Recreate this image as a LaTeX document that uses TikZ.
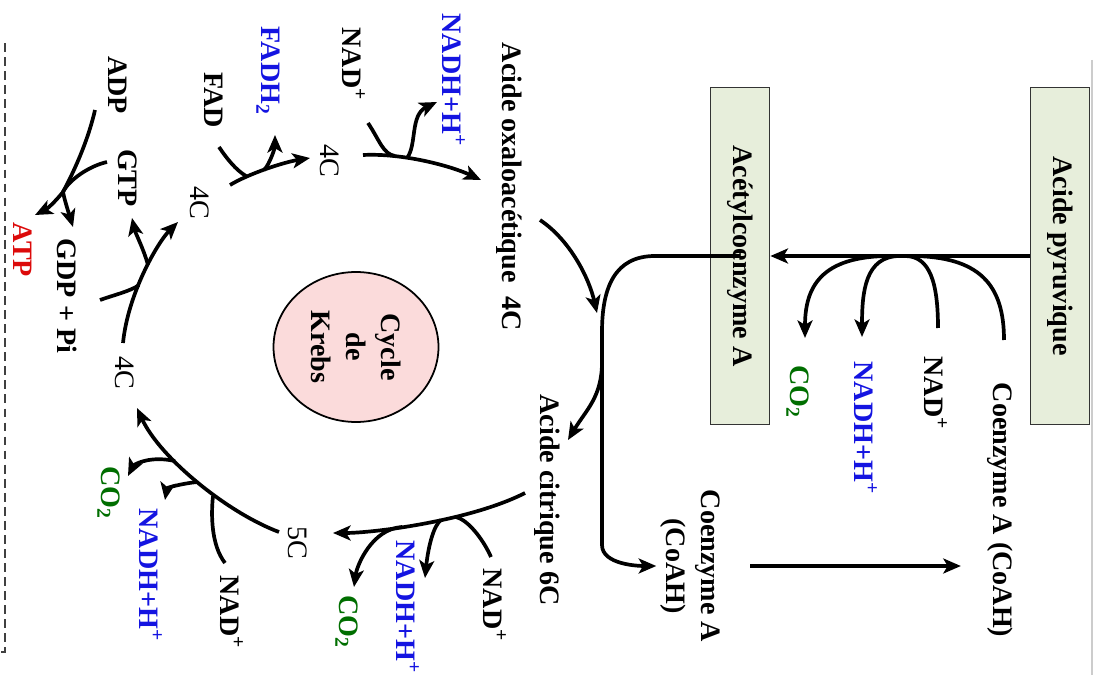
\documentclass[tikz,border=0pt]{standalone}
\usepackage{fontspec}
\setmainfont{Liberation Serif}
\usetikzlibrary{arrows.meta,shapes.geometric}
\definecolor{nadhblue}{RGB}{20,20,225}
\definecolor{coxgreen}{RGB}{0,110,0}
\definecolor{atpred}{RGB}{220,10,10}
\definecolor{boxgreen}{RGB}{231,238,219}
\definecolor{krebspink}{RGB}{251,219,219}
\tikzset{
  lbl/.style={rotate=-90, inner sep=0pt, font=\fontsize{16}{20}\selectfont\bfseries},
  lblr/.style={rotate=-90, inner sep=0pt, font=\fontsize{16}{20}\selectfont},
  molbox/.style={lbl, draw=black!80, fill=boxgreen, line width=1pt},
  feed/.style={line width=2.1pt},
  flow/.style={line width=2.1pt, -{Stealth[length=10pt,width=8.5pt,inset=2.5pt]}}
}
\begin{document}
\begin{tikzpicture}[x=0.02cm, y=-0.02cm]
\useasboundingbox (0,0) rectangle (1095,675);
% frame
\draw[black!75, line width=0.8pt, dash pattern=on 5pt off 3pt] (-10,44) -- (5,44) -- (5,652) -- (-10,652);
\draw[black!20, line width=0.8pt] (1092,60) -- (1092,675);

% pyruvate -> acetyl-CoA
\node[molbox, minimum width=6.74cm, minimum height=1.18cm] (pyr) at (1060,256) {Acide pyruvique};
\node[molbox, minimum width=6.74cm, minimum height=1.18cm] (acetyl) at (740,256) {Acétylcoenzyme A};
\node[lbl] (coaR) at (1000,510) {Coenzyme A (CoAH)};
\node[lbl] (nadR) at (936,393) {NAD\textsuperscript{+}};
\node[lbl, nadhblue] (nadhR) at (866,428) {NADH+H\textsuperscript{+}};
\node[lbl, coxgreen] (co2R) at (798,392) {CO\textsubscript{2}};
\node[lbl, align=center] (coaL) at (690,566) {Coenzyme A\\(CoAH)};

\draw[flow] (pyr) -- (acetyl);
\coordinate (pj) at (900,256);
\coordinate (coaIn) at (1004,340);
\coordinate (nadIn) at (938,328);
\coordinate (nadhOut) at (862,337);
\coordinate (co2Out) at (805,338);
\draw[feed] (coaIn) .. controls +(0,-55) and +(70,0) .. ([xshift=0.2cm]pj);
\draw[feed] (nadIn) .. controls +(0,-45) and +(25,0) .. ([xshift=0.1cm]pj);
\draw[flow] (pj) .. controls +(-35,0) and +(0,-45) .. (nadhOut);
\draw[flow] ([xshift=-0.2cm]pj) .. controls +(-70,0) and +(0,-50) .. (co2Out);

% entry into the cycle
\node[lbl] (oxalo) at (509,187) {Acide oxaloacétique\ \ 4C};
\node[lbl] (citr) at (547,500) {Acide citrique 6C};
\coordinate (hub) at (602,332);
\coordinate (oxOut) at (540,220);
\coordinate (oxIn) at (597,313);
\coordinate (ctOut) at (602,362);
\coordinate (ctIn) at (568,440);
\draw[flow, shorten >=2pt] (acetyl.center) -- ++(-85,0) .. controls +(-40,0) and +(0,-45) .. (hub) -- ++(0,213) .. controls +(0,20) and +(-20,0) .. (coaL.south);
\draw[flow] (oxOut) .. controls +(30,20) and +(-8,-35) .. (oxIn);
\draw[flow] (ctOut) .. controls +(0,35) and +(18,-30) .. (ctIn);
\draw[flow, shorten <=0.6cm, shorten >=0.52cm] (coaL.north) -- (coaL.north -| coaR.south);

% Krebs cycle
\node[lbl, shape=ellipse, draw, line width=1pt, fill=krebspink, align=center,
  minimum width=3cm, minimum height=3.3cm] (krebs) at (356,347) {Cycle\\de\\Krebs};
\node[lblr] (c4a) at (330,161) {4C};
\node[lblr] (c4b) at (200,203) {4C};
\node[lblr] (c4c) at (125,373) {4C};
\node[lblr] (c5) at (298,543) {5C};
\node[lbl] (nad1) at (354,64) {NAD\textsuperscript{+}};
\node[lbl, nadhblue] (nadh1) at (454,80) {NADH+H\textsuperscript{+}};
\node[lbl] (fad) at (214,100) {FAD};
\node[lbl, nadhblue] (fadh) at (268,71) {FADH\textsubscript{2}};
\node[lbl] (adp) at (118,85) {ADP};
\node[lbl] (gtp) at (128,178) {GTP};
\node[lbl, atpred] (atp) at (23,250) {ATP};
\node[lbl] (gdp) at (67,296) {GDP + Pi};
\node[lbl] (nad2) at (232,612) {NAD\textsuperscript{+}};
\node[lbl, nadhblue] (nadh2) at (151,575) {NADH+H\textsuperscript{+}};
\node[lbl, coxgreen] (co22) at (109,493) {CO\textsubscript{2}};
\node[lbl] (nad3) at (495,605) {NAD\textsuperscript{+}};
\node[lbl, nadhblue] (nadh3) at (408,607) {NADH+H\textsuperscript{+}};
\node[lbl, coxgreen] (co23) at (347,622) {CO\textsubscript{2}};

% 4C -> oxaloacetate
\coordinate (s1a) at (363,155);
\coordinate (s1b) at (481,180);
\coordinate (n1) at (368,123);
\coordinate (j1) at (395,156);
\coordinate (h1a) at (407,158);
\coordinate (h1b) at (437,102);
\draw[flow] (s1a) .. controls +(40,-2) and +(-30,-14) .. (s1b);
\draw[feed] (n1) .. controls +(12,18) and +(-12,-2) .. (j1);
\draw[flow] (h1a) .. controls +(10,-13) and +(-27,13) .. (h1b);

% 4C -> 4C (FAD)
\coordinate (s2a) at (230,185);
\coordinate (s2b) at (310,158);
\coordinate (f1) at (219,147);
\coordinate (j2) at (246,176);
\coordinate (h2a) at (264,170);
\coordinate (h2b) at (275,135);
\draw[flow] (s2a) .. controls +(20,-12) and +(-25,4) .. (s2b);
\draw[feed] (f1) .. controls +(8,12) and +(-10,-6) .. (j2);
\draw[flow] (h2a) .. controls +(6,-6) and +(0,12) .. (h2b);

% 4C -> 4C (GTP)
\coordinate (s3a) at (123,343);
\coordinate (s3b) at (178,222);
\coordinate (g1) at (100,300);
\coordinate (j3) at (139,285);
\coordinate (h3a) at (148,265);
\coordinate (h3b) at (132,218);
\draw[flow] (s3a) .. controls +(5,-50) and +(-20,20) .. (s3b);
\draw[feed] (g1) .. controls +(14,-5) and +(-8,6) .. (j3);
\draw[flow] (h3a) .. controls +(-4,-15) and +(3,14) .. (h3b);

% GTP + ADP
\coordinate (adpIn) at (95,110);
\coordinate (gtpIn) at (107,162);
\coordinate (ysplit) at (63,192);
\coordinate (atpHead) at (35,215);
\coordinate (gdpHead) at (73,227);
\draw[feed] (adpIn) .. controls +(-8,35) and +(8,-15) .. (ysplit);
\draw[feed] (gtpIn) .. controls +(-18,4) and +(6,-12) .. (ysplit);
\draw[flow] (ysplit) .. controls +(-8,10) and +(12,-6) .. (atpHead);
\draw[flow] (ysplit) .. controls +(2,10) and +(-3,-10) .. (gdpHead);

% 5C -> 4C
\coordinate (s4a) at (279,532);
\coordinate (s4b) at (137,408);
\coordinate (n2) at (225,563);
\coordinate (j4) at (213,496);
\coordinate (h4a) at (197,482);
\coordinate (h4b) at (165,500);
\coordinate (c4a0) at (175,461);
\coordinate (c4b0) at (128,476);
\draw[flow] (s4a) .. controls +(-51,-19) and +(23,50) .. (s4b);
\draw[feed] (n2) .. controls +(-14,-18) and +(-2,18) .. (j4);
\draw[flow] (h4a) .. controls +(-18,2) and +(2,-12) .. (h4b);
\draw[flow] (c4a0) .. controls +(-28,-6) and +(5,-10) .. (c4b0);

% citrate -> 5C
\coordinate (s5a) at (525,493);
\coordinate (s5b) at (333,533);
\coordinate (n3) at (491,557);
\coordinate (j5) at (456,517);
\coordinate (h5a) at (441,520);
\coordinate (h5b) at (425,578);
\coordinate (c5a) at (402,527);
\coordinate (c5b) at (354,587);
\draw[flow] (s5a) .. controls +(-55,28) and +(40,0) .. (s5b);
\draw[feed] (n3) .. controls +(-8,-18) and +(12,3) .. (j5);
\draw[flow] (h5a) .. controls +(-10,8) and +(2,-20) .. (h5b);
\draw[flow] (c5a) .. controls +(-30,2) and +(3,-22) .. (c5b);
\end{tikzpicture}
\end{document}
